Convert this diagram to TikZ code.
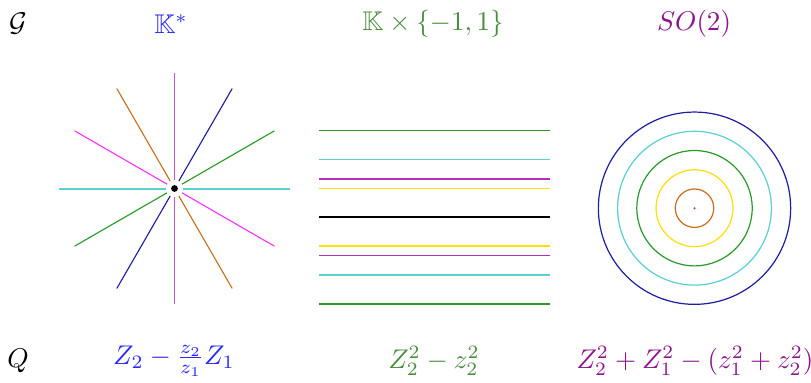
\documentclass[tikz,border=0pt]{standalone}
\usepackage{amssymb}
\usetikzlibrary{calc}
\definecolor{tblue}{RGB}{40,40,255}
\definecolor{tgreen}{RGB}{72,140,60}
\definecolor{tpurple}{RGB}{140,20,140}
\definecolor{lcyan}{RGB}{90,208,208}
\definecolor{lgreen}{RGB}{40,155,40}
\definecolor{lnavy}{RGB}{30,30,160}
\definecolor{lviolet}{RGB}{200,80,212}
\definecolor{lorange}{RGB}{200,112,30}
\definecolor{lmagenta}{RGB}{255,50,255}
\definecolor{lpurple}{RGB}{185,45,185}
\definecolor{lyellow}{RGB}{255,222,10}
\tikzset{
  lbl/.style={inner sep=0pt, anchor=center},
  ray/.style={line width=0.42pt},
  hline/.style={line width=0.5pt},
  ring/.style={line width=0.45pt},
}
\begin{document}
\begin{tikzpicture}[x=0.37pt,y=0.37pt]
\useasboundingbox (0,0) rectangle (811,382);
% labels top
\node[lbl] (G) at (18,358) {$\mathcal{G}$};
\node[lbl,text=tblue] (g1) at (171,358) {$\mathbb{K}^{*}$};
\node[lbl,text=tgreen] (g2) at (433,358) {$\mathbb{K}\times\{-1,1\}$};
\node[lbl,text=tpurple] (g3) at (694,358) {$SO(2)$};
% labels bottom
\node[lbl] (Q) at (18,21) {$Q$};
\node[lbl,text=tblue] (q1) at (174,21) {$Z_2-\frac{z_2}{z_1}Z_1$};
\node[lbl,text=tgreen] (q2) at (434,21) {$Z_2^2-z_2^2$};
\node[lbl,text=tpurple] (q3) at (695,21) {$Z_2^2+Z_1^2-(z_1^2+z_2^2)$};
% star
\node[circle,minimum size=6pt,inner sep=0pt] (c) at (174.5,193.5) {};
\foreach \a/\col/\w in {0/lcyan/0.74pt,30/lgreen/0.42pt,60/lnavy/0.42pt,90/lviolet/0.5pt,120/lorange/0.42pt,150/lmagenta/0.42pt}{
  \coordinate (sa\a) at ($(c.center)+(\a:115.4)$);
  \coordinate (sb\a) at ($(c.center)+(\a+180:115.4)$);
  \draw[ray,color=\col,line width=\w] (c) -- (sa\a);
  \draw[ray,color=\col,line width=\w] (c) -- (sb\a);
}
\node[circle,fill=black,minimum size=2.5pt,inner sep=0pt] (dot) at (c.center) {};
% horizontal lines
\coordinate (m) at (434.7,164.7);
\coordinate (hla) at ($(m)+(-115.4,86.55)$);  \coordinate (hra) at ($(m)+(115.4,86.55)$);
\coordinate (hlb) at ($(m)+(-115.4,57.7)$);   \coordinate (hrb) at ($(m)+(115.4,57.7)$);
\coordinate (hlc) at ($(m)+(-115.4,38.47)$);  \coordinate (hrc) at ($(m)+(115.4,38.47)$);
\coordinate (hld) at ($(m)+(-115.4,28.85)$);  \coordinate (hrd) at ($(m)+(115.4,28.85)$);
\coordinate (hl0) at ($(m)+(-115.4,0)$);      \coordinate (hr0) at ($(m)+(115.4,0)$);
\coordinate (hle) at ($(m)+(-115.4,-28.85)$); \coordinate (hre) at ($(m)+(115.4,-28.85)$);
\coordinate (hlf) at ($(m)+(-115.4,-38.47)$); \coordinate (hrf) at ($(m)+(115.4,-38.47)$);
\coordinate (hlg) at ($(m)+(-115.4,-57.7)$);  \coordinate (hrg) at ($(m)+(115.4,-57.7)$);
\coordinate (hlh) at ($(m)+(-115.4,-86.55)$); \coordinate (hrh) at ($(m)+(115.4,-86.55)$);
\draw[hline,lgreen] (hla) -- (hra);
\draw[hline,lcyan] (hlb) -- (hrb);
\draw[hline,lpurple] (hlc) -- (hrc);
\draw[hline,lyellow] (hld) -- (hrd);
\draw[hline,black,line width=0.8pt] (hl0) -- (hr0);
\draw[hline,lyellow] (hle) -- (hre);
\draw[hline,lpurple] (hlf) -- (hrf);
\draw[hline,lcyan] (hlg) -- (hrg);
\draw[hline,lgreen] (hlh) -- (hrh);
% circles
\coordinate (o) at (694.5,173.8);
\draw[ring,lorange] (o) circle[radius=19.23];
\draw[ring,lyellow] (o) circle[radius=38.46];
\draw[ring,lgreen] (o) circle[radius=57.69];
\draw[ring,lcyan] (o) circle[radius=76.92];
\draw[ring,lnavy] (o) circle[radius=96.15];
\node[circle,fill=lpurple!80!violet,minimum size=0.8pt,inner sep=0pt] (od) at (o) {};
\end{tikzpicture}
\end{document}
